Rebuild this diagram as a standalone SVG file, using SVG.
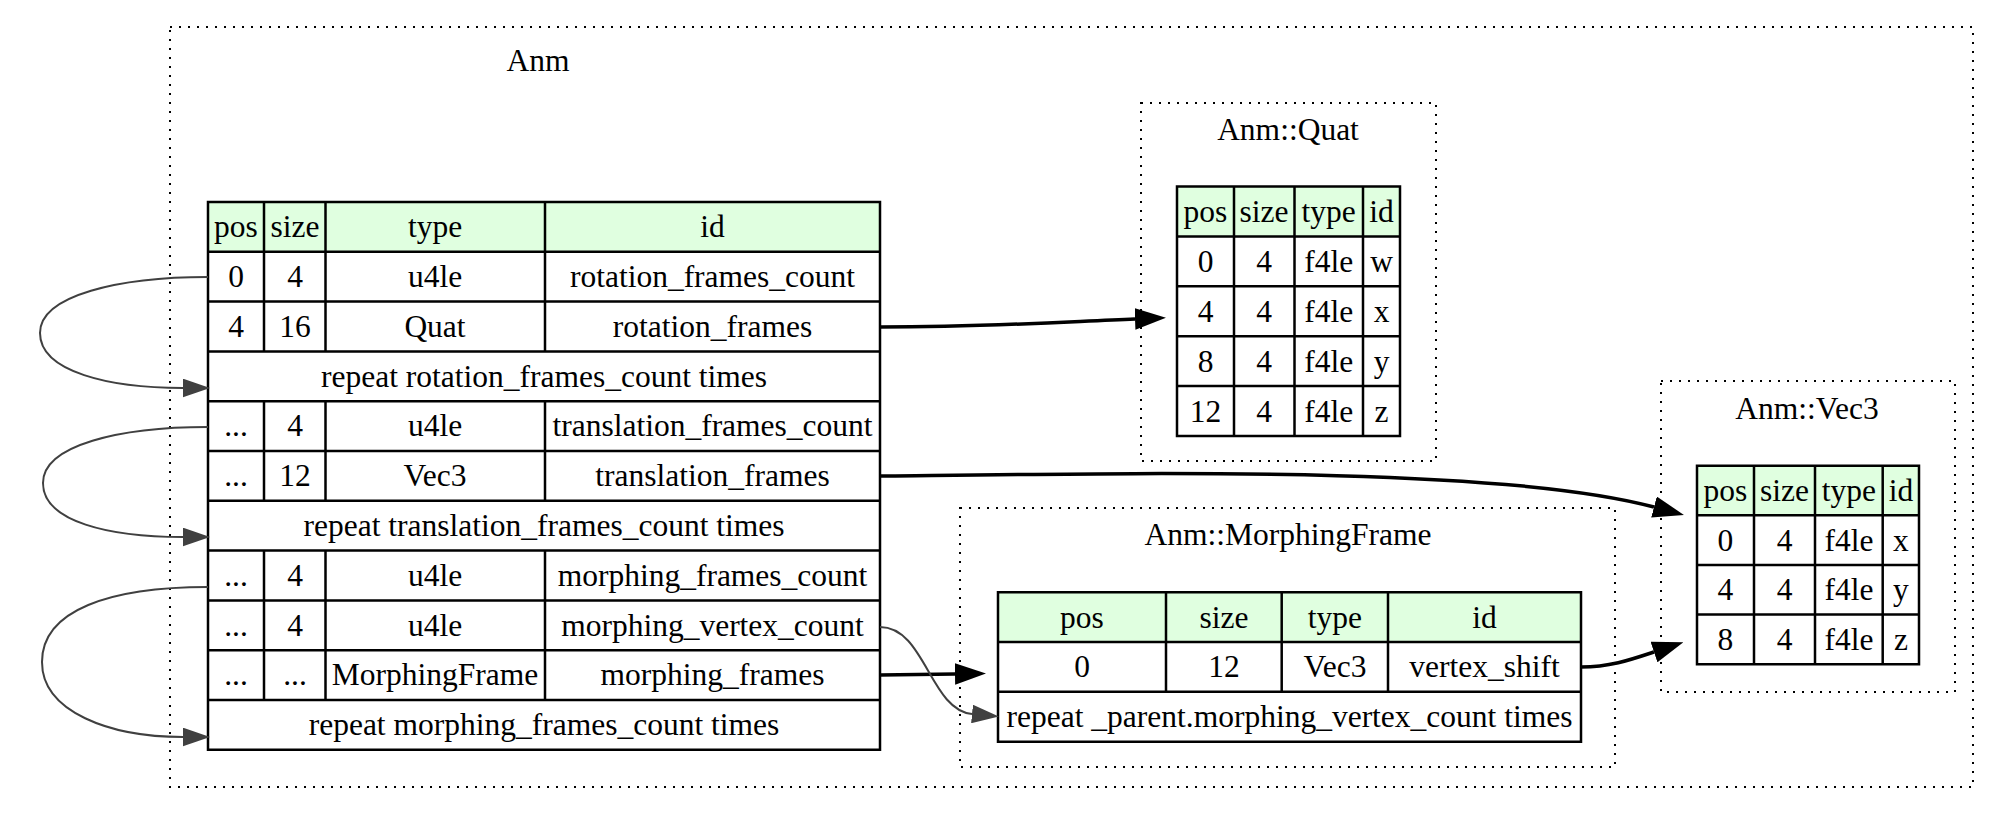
<svg xmlns="http://www.w3.org/2000/svg" width="2000" height="813" viewBox="0 0 2000 813">
<style>
text{font-family:"Liberation Serif","Times New Roman",serif;font-size:31.5px;fill:#000;text-anchor:middle}
.cl{fill:none;stroke:#000;stroke-width:2;stroke-dasharray:2 7}
.hd{fill:#e0ffe0}
.bd{fill:#fff}
.ln{stroke:#000;stroke-width:2.5;fill:none}
.e{fill:none;stroke:#000;stroke-width:3.5}
.g{fill:none;stroke:#404040;stroke-width:2}
</style>
<defs>
<marker id="ab" markerUnits="userSpaceOnUse" markerWidth="31" markerHeight="22" viewBox="0 0 30 21" refX="0" refY="10.5" orient="auto"><path d="M0,0 L30,10.5 L0,21 z" fill="#000"/></marker>
<marker id="ag" markerUnits="userSpaceOnUse" markerWidth="27" markerHeight="19" viewBox="0 0 26 18" refX="0" refY="9" orient="auto"><path d="M0,0 L26,9 L0,18 z" fill="#404040"/></marker>
</defs>
<rect width="2000" height="813" fill="#fff"/>

<g id="cluster_anm">
<rect class="cl" x="170" y="27" width="1803" height="760"/>
<text x="538" y="71">Anm</text>
</g>

<g id="anm_seq">
<rect class="hd" x="208" y="202" width="672" height="49.8"/>
<rect class="bd" x="208" y="251.8" width="672" height="498"/>
<path class="ln" d="M208,202H880V749.8H208Z M208,251.8H880 M208,301.6H880 M208,351.4H880 M208,401.2H880 M208,451H880 M208,500.8H880 M208,550.6H880 M208,600.4H880 M208,650.2H880 M208,700H880 M264,202V351.4 M325.5,202V351.4 M545,202V351.4 M264,401.2V500.8 M325.5,401.2V500.8 M545,401.2V500.8 M264,550.6V700 M325.5,550.6V700 M545,550.6V700"/>
<text x="236" y="237">pos</text><text x="295" y="237">size</text><text x="435" y="237">type</text><text x="712.5" y="237">id</text>
<text x="236" y="287">0</text><text x="295" y="287">4</text><text x="435" y="287">u4le</text><text x="712.5" y="287">rotation_frames_count</text>
<text x="236" y="337">4</text><text x="295" y="337">16</text><text x="435" y="337">Quat</text><text x="712.5" y="337">rotation_frames</text>
<text x="544" y="386.5">repeat rotation_frames_count times</text>
<text x="236" y="436">...</text><text x="295" y="436">4</text><text x="435" y="436">u4le</text><text x="712.5" y="436">translation_frames_count</text>
<text x="236" y="486">...</text><text x="295" y="486">12</text><text x="435" y="486">Vec3</text><text x="712.5" y="486">translation_frames</text>
<text x="544" y="536">repeat translation_frames_count times</text>
<text x="236" y="586">...</text><text x="295" y="586">4</text><text x="435" y="586">u4le</text><text x="712.5" y="586">morphing_frames_count</text>
<text x="236" y="635.5">...</text><text x="295" y="635.5">4</text><text x="435" y="635.5">u4le</text><text x="712.5" y="635.5">morphing_vertex_count</text>
<text x="236" y="685">...</text><text x="295" y="685">...</text><text x="435" y="685">MorphingFrame</text><text x="712.5" y="685">morphing_frames</text>
<text x="544" y="735">repeat morphing_frames_count times</text>
</g>

<g id="cluster_quat">
<rect class="cl" x="1141" y="103" width="295" height="358"/>
<text x="1288" y="140">Anm::Quat</text>
</g>
<g id="quat_seq">
<rect class="hd" x="1177" y="186.5" width="223" height="49.9"/>
<rect class="bd" x="1177" y="236.4" width="223" height="199.6"/>
<path class="ln" d="M1177,186.5H1400V436H1177Z M1177,236.4H1400 M1177,286.3H1400 M1177,336.2H1400 M1177,386.1H1400 M1234,186.5V436 M1294.5,186.5V436 M1363,186.5V436"/>
<text x="1205.5" y="222">pos</text><text x="1264" y="222">size</text><text x="1328.7" y="222">type</text><text x="1381.5" y="222">id</text>
<text x="1205.5" y="272">0</text><text x="1264" y="272">4</text><text x="1328.7" y="272">f4le</text><text x="1381.5" y="272">w</text>
<text x="1205.5" y="322">4</text><text x="1264" y="322">4</text><text x="1328.7" y="322">f4le</text><text x="1381.5" y="322">x</text>
<text x="1205.5" y="371.5">8</text><text x="1264" y="371.5">4</text><text x="1328.7" y="371.5">f4le</text><text x="1381.5" y="371.5">y</text>
<text x="1205.5" y="421.5">12</text><text x="1264" y="421.5">4</text><text x="1328.7" y="421.5">f4le</text><text x="1381.5" y="421.5">z</text>
</g>

<g id="cluster_vec3">
<rect class="cl" x="1661" y="381" width="294" height="311"/>
<text x="1807" y="419">Anm::Vec3</text>
</g>
<g id="vec3_seq">
<rect class="hd" x="1697" y="465.7" width="222" height="49.6"/>
<rect class="bd" x="1697" y="515.3" width="222" height="149"/>
<path class="ln" d="M1697,465.7H1919V664.3H1697Z M1697,515.3H1919 M1697,565H1919 M1697,614.6H1919 M1754,465.7V664.3 M1815,465.7V664.3 M1882.7,465.7V664.3"/>
<text x="1725.3" y="501">pos</text><text x="1784.5" y="501">size</text><text x="1848.9" y="501">type</text><text x="1900.9" y="501">id</text>
<text x="1725.3" y="550.7">0</text><text x="1784.5" y="550.7">4</text><text x="1848.9" y="550.7">f4le</text><text x="1900.9" y="550.7">x</text>
<text x="1725.3" y="600.3">4</text><text x="1784.5" y="600.3">4</text><text x="1848.9" y="600.3">f4le</text><text x="1900.9" y="600.3">y</text>
<text x="1725.3" y="650">8</text><text x="1784.5" y="650">4</text><text x="1848.9" y="650">f4le</text><text x="1900.9" y="650">z</text>
</g>

<g id="cluster_morphingframe">
<rect class="cl" x="960" y="508" width="655" height="259"/>
<text x="1288" y="545">Anm::MorphingFrame</text>
</g>
<g id="morphingframe_seq">
<rect class="hd" x="998" y="592.3" width="583" height="49.7"/>
<rect class="bd" x="998" y="642" width="583" height="99.7"/>
<path class="ln" d="M998,592.3H1581V741.7H998Z M998,642H1581 M998,691.8H1581 M1166,592.3V691.8 M1281.7,592.3V691.8 M1388,592.3V691.8"/>
<text x="1082" y="627.7">pos</text><text x="1223.9" y="627.7">size</text><text x="1334.9" y="627.7">type</text><text x="1484.5" y="627.7">id</text>
<text x="1082" y="677.4">0</text><text x="1223.9" y="677.4">12</text><text x="1334.9" y="677.4">Vec3</text><text x="1484.5" y="677.4">vertex_shift</text>
<text x="1289.5" y="727.3">repeat _parent.morphing_vertex_count times</text>
</g>

<g id="connectors">
<path class="e" marker-end="url(#ab)" d="M880,327 C990,327 1060,322 1135,319"/>
<path class="e" marker-end="url(#ab)" d="M880,476 C1150,473 1500,466 1654,507"/>
<path class="e" marker-end="url(#ab)" d="M1581,667 C1610,667 1630,660 1654,652"/>
<path class="e" marker-end="url(#ab)" d="M880,675 L955,674"/>
<path class="g" marker-end="url(#ag)" d="M880,627 C925,627 930,710 972,714"/>
<path class="g" marker-end="url(#ag)" d="M208,277 C120,277 40,295 40,333 C40,372 110,388 183,388"/>
<path class="g" marker-end="url(#ag)" d="M208,427 C120,427 43,445 43,483 C43,522 110,537 183,537"/>
<path class="g" marker-end="url(#ag)" d="M208,587 C110,587 42,610 42,662 C42,712 110,737 183,737"/>
</g>
</svg>
